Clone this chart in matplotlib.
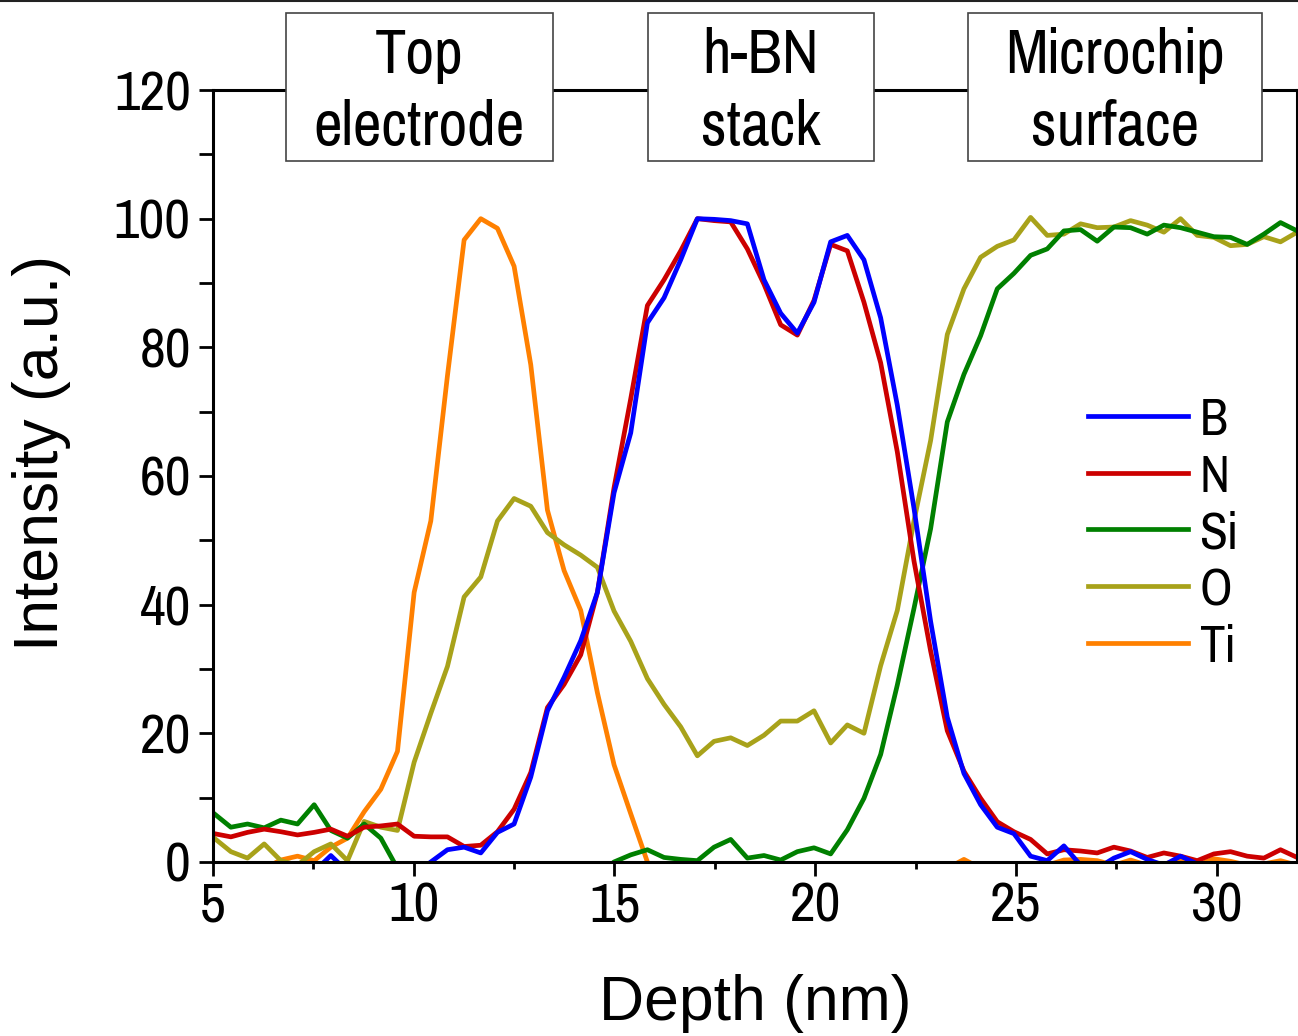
import matplotlib
matplotlib.use('Agg')
import matplotlib.pyplot as plt
from matplotlib.patches import Rectangle
from matplotlib.lines import Line2D
from matplotlib.ticker import MultipleLocator

# depth grid (nm) read from the profile
depth = [5.03, 5.445, 5.86, 6.275, 6.69, 7.105, 7.52, 7.935, 8.35, 8.765,
         9.18, 9.595, 10.01, 10.425, 10.84, 11.255, 11.67, 12.085, 12.5, 12.915,
         13.33, 13.745, 14.16, 14.575, 14.99, 15.405, 15.82, 16.235, 16.65, 17.065,
         17.48, 17.895, 18.31, 18.725, 19.14, 19.555, 19.97, 20.385, 20.8, 21.215,
         21.63, 22.045, 22.46, 22.875, 23.29, 23.705, 24.12, 24.535, 24.95, 25.365,
         25.78, 26.195, 26.61, 27.025, 27.44, 27.855, 28.27, 28.685, 29.1, 29.515,
         29.93, 30.345, 30.76, 31.175, 31.59, 32.005]

B = [-3, -3, -2, -3, -2, -2, -1.5, 1.0, -1.5, -3,
     -4, -3, -2, 0, 1.9, 2.3, 1.4, 4.6, 5.9, 13.2,
     23.5, 28.7, 34.4, 41.9, 57.4, 66.7, 83.8, 87.7, 93.6, 100,
     99.9, 99.7, 99.2, 90.5, 85.3, 82.2, 87, 96.4, 97.4, 93.6,
     84.6, 71, 55, 37.4, 22.5, 13.75, 8.9, 5.4, 4.4, 0.9,
     0.2, 2.5, -0.5, -1, 0.6, 1.6, 0.4, -0.5, 0.9, -0.3,
     -1, -1.5, -1, -2, -1.5, -2]

N = [4.4, 3.9, 4.6, 5.1, 4.7, 4.2, 4.6, 5.1, 4.0, 5.4,
     5.6, 5.9, 4.0, 3.9, 3.9, 2.4, 2.6, 4.7, 8.2, 13.9,
     24, 27.6, 32.2, 41.9, 58.2, 72, 86.5, 90.5, 95, 100,
     99.7, 99.5, 95.3, 89.8, 83.5, 81.9, 87.3, 96, 95, 87,
     77.6, 63.75, 46.8, 32.8, 20.4, 14.1, 9.9, 6.25, 4.7, 3.5,
     1.25, 1.9, 1.7, 1.4, 2.3, 1.7, 0.7, 1.4, 0.9, 0.2,
     1.25, 1.6, 0.9, 0.6, 1.9, 0.7]

Si = [7.5, 5.4, 5.9, 5.3, 6.5, 5.9, 8.9, 4.9, 3.7, 5.9,
      3.7, -1, -3, -4, -5, -4, -3, -4, -5, -4,
      -3, -4, -3, -2, 0, 1.1, 1.9, 0.7, 0.4, 0.2,
      2.3, 3.5, 0.6, 1.0, 0.3, 1.6, 2.2, 1.25, 5.0, 9.9,
      16.7, 27.5, 39.4, 51.8, 68.4, 75.8, 81.8, 89.1, 91.5, 94.3,
      95.3, 98.1, 98.3, 96.5, 98.7, 98.6, 97.6, 99, 98.6, 97.9,
      97.2, 97.1, 96, 97.6, 99.4, 98.1]

O = [3.7, 1.6, 0.6, 2.8, 0.2, -0.5, 1.6, 2.8, 0.2, 6.3,
     5.4, 4.9, 15.5, 23.1, 30.4, 41.2, 44.3, 53, 56.5, 55.3,
     51.2, 49.3, 47.7, 45.8, 39, 34.3, 28.5, 24.5, 21, 16.5,
     18.75, 19.3, 18.1, 19.7, 21.9, 21.9, 23.5, 18.5, 21.3, 20,
     30.5, 39.1, 53, 65.5, 82, 89.1, 94, 95.7, 96.7, 100.2,
     97.4, 97.6, 99.2, 98.6, 98.7, 99.7, 99, 97.9, 100, 97.4,
     97.1, 95.8, 96, 97.2, 96.4, 97.9]

Ti = [-3, -3, -2, -1, 0.3, 0.9, 0.2, 2.3, 3.7, 7.8,
      11.3, 17.2, 41.9, 53, 75.6, 96.7, 100, 98.5, 92.6, 77.3,
      54.7, 45.3, 39.1, 26.3, 15.1, 7.5, 0, -5, -8, -9,
      -9, -9, -9, -9, -9, -9, -9, -9, -9, -9,
      -8, -6, -5, -3, -1, 0.4, -1, -1, -1, -0.5,
      -0.5, 0.3, 0.4, 0.2, -0.5, 0.3, -0.5, -0.3, 0.2, -0.5,
      0.5, 0.1, -0.5, -0.3, 0.2, -0.5]

elements = ['B', 'N', 'Si', 'O', 'Ti']
colors = {'B': '#0000ff', 'N': '#cc0000', 'Si': '#008000', 'O': '#a8a21a', 'Ti': '#ff8000'}
series = {'B': B, 'N': N, 'Si': Si, 'O': O, 'Ti': Ti}

layers = ['Top\nelectrode', 'h-BN\nstack', 'Microchip\nsurface']

narrow = ['Pragati Narrow', 'Roboto Condensed', 'Liberation Sans', 'DejaVu Sans']
plt.rcParams['font.family'] = ['Liberation Sans', 'DejaVu Sans']

fig = plt.figure(figsize=(12.98, 10.36), dpi=100)
ax = fig.add_axes([0.1641, 0.168, 0.8351, 0.7451])

handles = {}
for el in ['Ti', 'O', 'Si', 'N', 'B']:
    handles[el], = ax.plot(depth, series[el], color=colors[el], lw=3.4, label=el)

ax.set_xlim(5, 32)
ax.set_ylim(0, 120)
ax.xaxis.set_major_locator(MultipleLocator(5))
ax.xaxis.set_minor_locator(MultipleLocator(2.5))
ax.yaxis.set_major_locator(MultipleLocator(20))
ax.yaxis.set_minor_locator(MultipleLocator(10))
ax.tick_params(which='both', direction='out', width=2, top=False, right=False)
ax.tick_params(axis='x', which='major', length=10, pad=4)
ax.tick_params(axis='x', which='minor', length=5)
ax.tick_params(axis='y', which='both', length=10, pad=6)
for lab in ax.get_xticklabels() + ax.get_yticklabels():
    lab.set_fontfamily(narrow)
    lab.set_fontsize(44)
for sp in ax.spines.values():
    sp.set_linewidth(2.2)

ax.set_xlabel('Depth (nm)', fontsize=45, va='center')
ax.set_ylabel('Intensity (a.u.)', fontsize=45, va='center')
ax.xaxis.set_label_coords(0.5, -0.184)
ax.yaxis.set_label_coords(-0.158, 0.53)

leg = ax.legend([handles[e] for e in elements], elements, loc='center left',
                bbox_to_anchor=(0.807, 0.425), frameon=False, borderpad=0,
                borderaxespad=0, handlelength=1.8, handletextpad=0.22,
                labelspacing=0.16, prop={'family': narrow, 'size': 40})

# layer boxes over the top spine
boxes = [(0.2203, 0.2057), (0.4992, 0.1741), (0.7458, 0.2265)]
for (x0, w), name in zip(boxes, layers):
    fig.patches.append(Rectangle((x0, 0.8446), w, 0.1429, transform=fig.transFigure,
                                 facecolor='white', edgecolor='#444444', lw=1.2, zorder=5))
    fig.text(x0 + w / 2, 0.912, name, ha='center', va='center', fontsize=49,
             family=narrow, linespacing=1.32, zorder=6)

fig.add_artist(Line2D([0, 1], [0.999, 0.999], transform=fig.transFigure,
                      color='#222222', lw=1.5))

fig.savefig('out.png', dpi=100)
